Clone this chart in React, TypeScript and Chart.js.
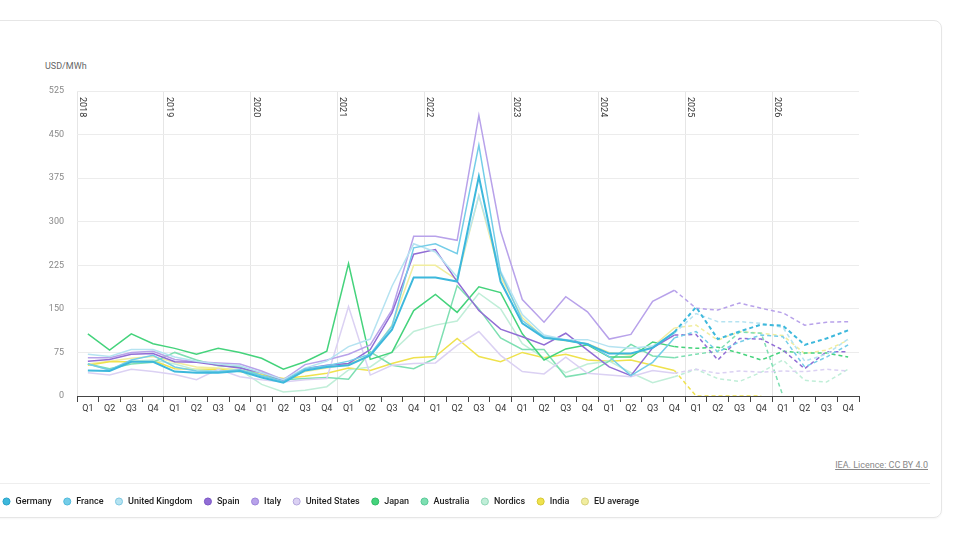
import { useEffect, useRef } from 'react';
import { Chart, registerables } from 'chart.js';

Chart.register(...registerables);

const years = ['2018', '2019', '2020', '2021', '2022', '2023', '2024', '2025', '2026'];
const quarters = [
  'Q1', 'Q2', 'Q3', 'Q4', 'Q1', 'Q2', 'Q3', 'Q4', 'Q1', 'Q2', 'Q3', 'Q4',
  'Q1', 'Q2', 'Q3', 'Q4', 'Q1', 'Q2', 'Q3', 'Q4', 'Q1', 'Q2', 'Q3', 'Q4',
  'Q1', 'Q2', 'Q3', 'Q4', 'Q1', 'Q2', 'Q3', 'Q4', 'Q1', 'Q2', 'Q3', 'Q4',
];
// last quarter with actual data (2024 Q4); later segments are forecasts
const lastActual = 27;

const germany = [44, 43, 59, 59, 42, 40, 40, 43, 32, 23, 44, 50, 53, 70, 114, 204, 204, 197, 378, 197, 125, 100, 96, 89, 73, 73, 83, 110, 153, 98, 111, 123, 121, 88, 99, 113];
const france = [55, 45, 62, 70, 50, 43, 42, 45, 35, 25, 47, 52, 60, 72, 120, 255, 262, 245, 432, 212, 130, 102, 96, 90, 68, 35, 58, 100, 111, 76, 93, 105, 102, 50, 67, 88];
const unitedKingdom = [72, 68, 80, 80, 67, 60, 55, 52, 40, 28, 48, 60, 85, 98, 189, 262, 248, 205, 345, 215, 140, 105, 97, 97, 85, 82, 86, 108, 142, 128, 128, 125, 118, 60, 72, 98];
const spain = [60, 63, 72, 73, 59, 58, 53, 48, 40, 27, 47, 53, 56, 80, 143, 244, 252, 197, 147, 115, 102, 88, 108, 79, 50, 35, 83, 105, 106, 62, 99, 98, 79, 47, 76, 76];
const italy = [66, 66, 75, 77, 63, 59, 57, 55, 43, 28, 54, 62, 72, 88, 148, 275, 275, 268, 483, 284, 166, 127, 171, 145, 98, 106, 163, 182, 151, 148, 160, 151, 143, 122, 127, 128];
const unitedStates = [40, 36, 46, 42, 37, 28, 46, 33, 28, 24, 28, 30, 154, 36, 53, 56, 57, 87, 111, 70, 42, 38, 67, 39, 36, 33, 44, 39, 46, 39, 43, 41, 43, 42, 46, 43];
const japan = [107, 79, 107, 90, 82, 72, 82, 75, 65, 46, 59, 77, 228, 63, 75, 147, 175, 144, 188, 178, 107, 62, 81, 88, 67, 67, 93, 85, 82, 84, 74, 62, 77, 74, 74, 67];
const australia = [55, 47, 55, 58, 75, 62, 52, 50, 35, 28, 30, 32, 29, 76, 53, 47, 65, 190, 150, 100, 80, 80, 33, 39, 60, 89, 69, 66, 72, 77, 110, 108, 0, null, null, null];
const nordics = [55, 45, 60, 62, 55, 45, 42, 45, 20, 7, 10, 16, 45, 50, 76, 111, 122, 129, 177, 150, 90, 65, 40, 55, 60, 40, 23, 33, 46, 30, 25, 41, 62, 27, 24, 46];
const india = [53, 59, 59, 61, 47, 46, 46, 42, 36, 30, 34, 39, 48, 44, 56, 66, 68, 99, 68, 59, 75, 66, 72, 62, 60, 62, 53, 44, 0, 0, 0, 0, null, null, null, null];
const euAverage = [55, 60, 65, 68, 58, 50, 48, 45, 38, 28, 42, 48, 55, 70, 122, 225, 225, 200, 345, 205, 135, 100, 95, 90, 75, 70, 85, 117, 122, 96, 111, 108, 104, 73, 79, 96];

const seriesNames = ['Germany', 'France', 'United Kingdom', 'Spain', 'Italy', 'United States', 'Japan', 'Australia', 'Nordics', 'India', 'EU average'];
const seriesValues = [germany, france, unitedKingdom, spain, italy, unitedStates, japan, australia, nordics, india, euAverage];
const seriesColors = ['#3db8dc', '#74cde8', '#b5e3f1', '#916dd5', '#b8a2ea', '#dbd1f3', '#45d37c', '#7edfb2', '#c0eed8', '#efe24d', '#f1ed9f'];
const ringColors = ['#2aa3c9', '#4fb9db', '#7fc8e2', '#7a55c4', '#9b83d9', '#b5a8de', '#2fbb66', '#58c997', '#8ed6b5', '#d6c831', '#d6d07a'];

const FONT = 'Roboto, "Open Sans", sans-serif';

const yearLabels = {
  id: 'yearLabels',
  beforeDatasetsDraw(chart: Chart) {
    const { ctx, chartArea } = chart;
    const x = chart.scales.x;
    const half = (x.getPixelForValue(1) - x.getPixelForValue(0)) / 2;
    ctx.save();
    ctx.font = `9px ${FONT}`;
    ctx.fillStyle = '#333';
    ctx.textBaseline = 'middle';
    ctx.textAlign = 'left';
    years.forEach((year, j) => {
      const px = x.getPixelForValue(j * 4) - half;
      ctx.save();
      ctx.translate(px + 5, chartArea.top + 6);
      ctx.rotate(Math.PI / 2);
      ctx.fillText(year, 0, 0);
      ctx.restore();
    });
    ctx.restore();
  },
};

function PriceChart() {
  const canvasRef = useRef<HTMLCanvasElement | null>(null);

  useEffect(() => {
    if (!canvasRef.current) {
      return;
    }

    const chart = new Chart(canvasRef.current, {
      type: 'line',
      data: {
        labels: quarters,
        datasets: seriesNames.map((name, i) => ({
          label: name,
          data: seriesValues[i],
          borderColor: seriesColors[i],
          backgroundColor: seriesColors[i],
          borderWidth: i === 0 ? 2 : 1.5,
          pointRadius: 0,
          tension: 0,
          spanGaps: false,
          segment: {
            borderDash: (ctx: any) => (ctx.p0DataIndex >= lastActual ? [4, 3] : undefined),
          },
        })),
      },
      options: {
        animation: false,
        responsive: true,
        maintainAspectRatio: false,
        events: [],
        layout: { padding: { left: 0, right: 82, top: 51, bottom: 4 } },
        plugins: {
          tooltip: { enabled: false },
          legend: {
            position: 'bottom',
            align: 'start',
            labels: {
              usePointStyle: true,
              boxWidth: 9,
              boxHeight: 5,
              padding: 11,
              color: '#222',
              font: { size: 9, family: FONT, weight: '500' },
              generateLabels: (c: Chart) =>
                c.data.datasets.map((ds: any, i: number) => ({
                  text: ds.label,
                  fillStyle: seriesColors[i],
                  strokeStyle: ringColors[i],
                  lineWidth: 1,
                  pointStyle: 'circle',
                  hidden: false,
                  datasetIndex: i,
                  fontColor: '#222',
                })),
            },
          },
        },
        scales: {
          x: {
            offset: true,
            afterFit: (axis: any) => {
              axis.height = 90;
            },
            grid: {
              offset: true,
              drawTicks: true,
              tickLength: 6,
              color: (ctx: any) => (ctx.index % 4 === 0 && ctx.index < 36 ? '#e6e6e6' : 'rgba(0,0,0,0)'),
              tickColor: '#444',
            },
            border: { display: true, color: '#444', width: 1 },
            ticks: {
              autoSkip: false,
              maxRotation: 0,
              padding: 1,
              color: '#333',
              font: { size: 9, family: FONT },
            },
          },
          y: {
            min: 0,
            max: 525,
            afterFit: (axis: any) => {
              axis.width = 86;
            },
            grid: { color: '#ececec', drawTicks: false },
            border: { display: false },
            ticks: {
              stepSize: 75,
              padding: 13,
              color: '#888',
              font: { size: 9, family: FONT },
            },
          },
        },
      },
      plugins: [yearLabels],
    });

    return () => {
      chart.destroy();
    };
  }, []);

  return <canvas ref={canvasRef} />;
}

export default function App() {
  return (
    <div
      style={{
        position: 'fixed',
        left: 0,
        top: 0,
        width: 960,
        height: 540,
        overflow: 'hidden',
        background: '#fff',
        fontFamily: FONT,
      }}
    >
      <div
        style={{
          position: 'absolute',
          left: -12,
          top: 20,
          width: 952,
          height: 496,
          border: '1px solid #e6e6e6',
          borderRadius: 8,
          boxShadow: '0 1px 2px rgba(0,0,0,0.04)',
        }}
      />
      <div style={{ position: 'absolute', left: 45, top: 61, fontSize: 9, color: '#666' }}>USD/MWh</div>
      <div
        style={{
          position: 'absolute',
          right: 32,
          top: 460,
          fontSize: 9,
          color: '#888',
          textDecoration: 'underline',
        }}
      >
        IEA. Licence: CC BY 4.0
      </div>
      <div style={{ position: 'absolute', left: 0, top: 483, width: 930, height: 1, background: '#eeeeee' }} />
      <div style={{ position: 'absolute', left: -9, top: 40, width: 950, height: 480 }}>
        <PriceChart />
      </div>
    </div>
  );
}
